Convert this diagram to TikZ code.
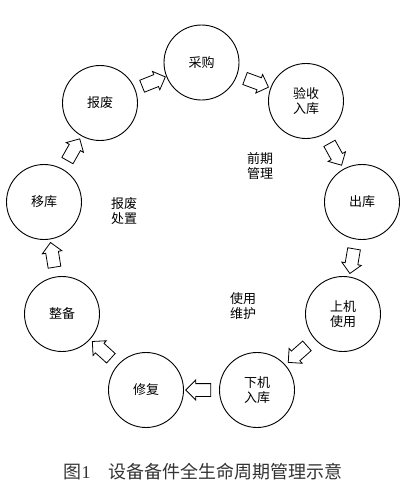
\documentclass[tikz,border=0pt]{standalone}
\usepackage{fontspec}
\newfontfamily\cjk{Noto Sans CJK SC}
\usetikzlibrary{shapes.arrows}
\begin{document}
\begin{tikzpicture}[x=1pt,y=-1pt,
  stage/.style={circle,draw=black,line width=0.9pt,minimum size=75pt,inner sep=0pt,
    align=center,font=\cjk\fontsize{13}{15}\selectfont},
  sidelabel/.style={align=center,font=\cjk\fontsize{13}{15}\selectfont,inner sep=0pt},
  blockarrow/.style={single arrow,draw=black,line width=0.8pt,fill=white,
    minimum height=25pt,inner xsep=0pt,inner ysep=6pt,
    single arrow head extend=3.5pt,sloped,allow upside down}
]
\useasboundingbox (0,0) rectangle (405,488);
\fill[white] (0,0) rectangle (405,488);

\node[stage] (cg) at (201.5,62.5) {采购};
\node[stage] (ys) at (306,101) {验收\\入库};
\node[stage] (ck) at (362,202) {出库};
\node[stage] (sj) at (343,314) {上机\\使用};
\node[stage] (xj) at (257,390) {下机\\入库};
\node[stage] (xf) at (146,390) {修复};
\node[stage] (zb) at (62,314) {整备};
\node[stage] (yk) at (44,202) {移库};
\node[stage] (bf) at (100,103) {报废};

\path (bf) -- node[blockarrow] (a1) {} (cg);
\path (cg) -- node[blockarrow] (a2) {} (ys);
\path (ys) -- node[blockarrow] (a3) {} (ck);
\path (ck) -- node[blockarrow] (a4) {} (sj);
\path (sj) -- node[blockarrow] (a5) {} (xj);
\path (xj) -- node[blockarrow] (a6) {} (xf);
\path (xf) -- node[blockarrow] (a7) {} (zb);
\path (zb) -- node[blockarrow] (a8) {} (yk);
\path (yk) -- node[blockarrow] (a9) {} (bf);

\node[sidelabel] (qq) at (260,166) {前期\\管理};
\node[sidelabel] (bz) at (124,211) {报废\\处置};
\node[sidelabel] (sy) at (243,306) {使用\\维护};

\node[font=\cjk\fontsize{18}{20}\selectfont,text=black!80] (cap) at (203,472)
  {图{\fontspec{Liberation Serif}1}\quad 设备备件全生命周期管理示意};
\end{tikzpicture}
\end{document}
